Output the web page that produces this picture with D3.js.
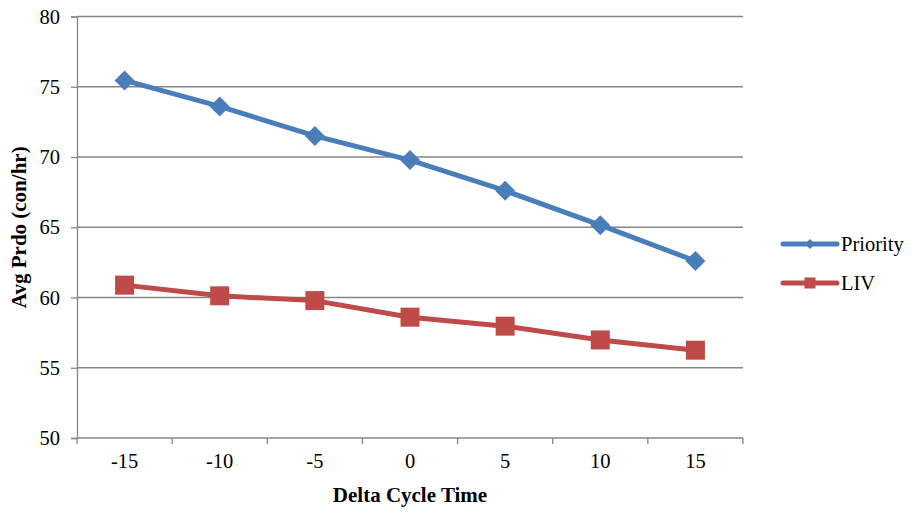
<!DOCTYPE html>
<html>
<head>
<meta charset="utf-8">
<script src="https://cdn.jsdelivr.net/npm/d3@7"></script>
<style>
  html, body { margin: 0; padding: 0; background: #fff; }
  svg { display: block; }
  svg text { font-family: "Liberation Serif", "Times New Roman", serif; fill: #000; }
</style>
</head>
<body>
<svg id="chart" width="911" height="512"></svg>
<script>
// Average production per delta cycle time, two control strategies
const categories = ["-15", "-10", "-5", "0", "5", "10", "15"];
const priorityValues = [75.45, 73.6, 71.5, 69.78, 67.6, 65.15, 62.6];
const livValues = [60.88, 60.12, 59.78, 58.6, 57.96, 56.98, 56.25];
const yTicks = [50, 55, 60, 65, 70, 75, 80];
const seriesNames = ["Priority", "LIV"];
const seriesColors = ["#4A7EBB", "#BE4B48"];

(function () {
  const svg = d3.select("#chart");
  const plotLeft = 77, plotRight = 743, plotTop = 16.5, plotBottom = 438;
  const serif = "'Liberation Serif', 'Times New Roman', serif";
  const labelSize = 20.5, titleSize = 21;

  const x = d3.scaleBand().domain(categories).range([plotLeft, plotRight]).padding(0);
  const y = d3.scaleLinear().domain([50, 80]).range([plotBottom, plotTop]);

  const gridColor = "#868686";

  // horizontal gridlines
  svg.append("g")
    .selectAll("line")
    .data(yTicks.filter(t => t !== 50))
    .join("line")
    .attr("x1", plotLeft).attr("x2", plotRight)
    .attr("y1", d => y(d)).attr("y2", d => y(d))
    .attr("stroke", gridColor).attr("stroke-width", 1.3);

  // y axis
  const yAxis = svg.append("g")
    .attr("transform", `translate(${plotLeft},0)`)
    .call(d3.axisLeft(y).tickValues(yTicks).tickSize(6).tickPadding(11));
  yAxis.attr("font-family", serif).attr("font-size", labelSize);
  yAxis.select(".domain").attr("stroke", gridColor).attr("stroke-width", 1.3);
  yAxis.selectAll(".tick line").attr("stroke", gridColor).attr("stroke-width", 1.3);
  yAxis.selectAll(".tick text").attr("fill", "#000");

  // x axis with ticks at band boundaries
  const xAxis = svg.append("g")
    .attr("transform", `translate(0,${plotBottom})`)
    .attr("font-family", serif).attr("font-size", labelSize);
  xAxis.append("line")
    .attr("x1", plotLeft).attr("x2", plotRight)
    .attr("stroke", gridColor).attr("stroke-width", 1.3);
  const boundaries = categories.map(c => x(c)).concat([x(categories[categories.length - 1]) + x.bandwidth()]);
  xAxis.selectAll("line.tk")
    .data(boundaries)
    .join("line").attr("class", "tk")
    .attr("x1", d => d).attr("x2", d => d)
    .attr("y1", 0).attr("y2", 6)
    .attr("stroke", gridColor).attr("stroke-width", 1.3);
  xAxis.selectAll("text")
    .data(categories)
    .join("text")
    .attr("x", d => x(d) + x.bandwidth() / 2)
    .attr("y", 30)
    .attr("text-anchor", "middle")
    .text(d => d);

  // axis titles
  svg.append("text")
    .attr("x", (plotLeft + plotRight) / 2).attr("y", 502)
    .attr("text-anchor", "middle")
    .attr("font-family", serif)
    .attr("font-size", titleSize).attr("font-weight", "bold")
    .text("Delta Cycle Time");
  svg.append("text")
    .attr("transform", `translate(26,${(plotTop + plotBottom) / 2}) rotate(-90)`)
    .attr("text-anchor", "middle")
    .attr("font-family", serif)
    .attr("font-size", titleSize).attr("font-weight", "bold")
    .text("Avg Prdo (con/hr)");

  const cx = d => x(d) + x.bandwidth() / 2;
  const line = d3.line().x(d => cx(d.c)).y(d => y(d.v));

  const series = [
    { name: seriesNames[0], color: seriesColors[0], values: priorityValues, shape: "diamond" },
    { name: seriesNames[1], color: seriesColors[1], values: livValues, shape: "square" }
  ];

  function marker(g, shape, color, size) {
    if (shape === "diamond") {
      g.append("path")
        .attr("d", `M0,${-size}L${size},0L0,${size}L${-size},0Z`)
        .attr("fill", color);
    } else {
      g.append("rect")
        .attr("x", -size).attr("y", -size)
        .attr("width", size * 2).attr("height", size * 2)
        .attr("fill", color);
    }
  }

  series.forEach(s => {
    const pts = categories.map((c, i) => ({ c, v: s.values[i] }));
    svg.append("path")
      .datum(pts)
      .attr("d", line)
      .attr("fill", "none")
      .attr("stroke", s.color)
      .attr("stroke-width", 5)
      .attr("stroke-linejoin", "round");
    svg.append("g").selectAll("g")
      .data(pts)
      .join("g")
      .attr("transform", d => `translate(${cx(d.c)},${y(d.v)})`)
      .each(function () { marker(d3.select(this), s.shape, s.color, s.shape === "diamond" ? 10 : 9.5); });
  });

  // legend
  const legend = svg.append("g");
  series.forEach((s, i) => {
    const ly = 244 + i * 39;
    const g = legend.append("g").attr("transform", `translate(0,${ly})`);
    g.append("line")
      .attr("x1", 783).attr("x2", 837)
      .attr("stroke", s.color).attr("stroke-width", 5).attr("stroke-linecap", "round");
    const m = g.append("g").attr("transform", "translate(810,0)");
    marker(m, s.shape, s.color, s.shape === "diamond" ? 5 : 5.5);
    g.append("text")
      .attr("x", 841).attr("y", 7)
      .attr("font-family", serif)
      .attr("font-size", labelSize)
      .text(s.name);
  });
})();
</script>
</body>
</html>
